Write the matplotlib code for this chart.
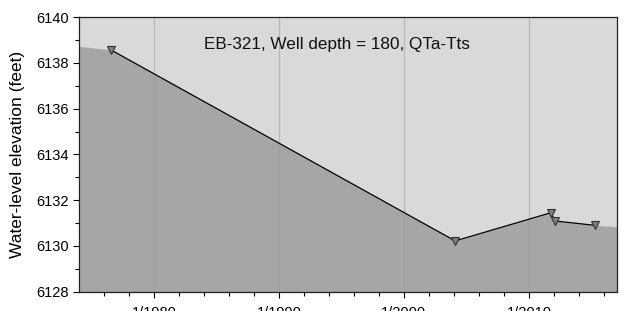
import matplotlib
matplotlib.use("Agg")
import matplotlib.pyplot as plt

# measured water levels (decimal year, feet)
years = [1976.55, 2004.1, 2011.75, 2012.1, 2015.3]
levels = [6138.57, 6130.22, 6131.45, 6131.09, 6130.9]

# shaded area continues out to the plot edges
fill_years = [1974.0] + years + [2017.05]
fill_levels = [6138.72] + levels + [6130.84]

tick_years = [1980, 1990, 2000, 2010]
tick_labels = ["1/1980", "1/1990", "1/2000", "1/2010"]
title = "EB-321, Well depth = 180, QTa-Tts"

plt.rcParams["font.family"] = ["Liberation Sans", "DejaVu Sans"]

fig = plt.figure(figsize=(6.24, 3.11), dpi=100)
ax = fig.add_axes([0.1266, 0.062, 0.8622, 0.883])
ax.set_facecolor("#d9d9d9")

ax.fill_between(fill_years, fill_levels, 6128, color="#a6a6a6", lw=0, zorder=1)
for x in tick_years:
    ax.axvline(x, color="#c0c0c0", lw=0.9, zorder=0.5)
    ax.axvline(x, color="black", alpha=0.04, lw=0.9, zorder=2)

ax.plot(years, levels, color="black", lw=0.9, zorder=3)
ax.plot(years, levels, ls="none", marker="v", ms=6, mfc="#808080",
        mec="#333333", mew=0.8, zorder=4)

ax.set_xlim(1974.0, 2017.05)
ax.set_ylim(6128, 6140)
ax.set_xticks(tick_years)
ax.set_xticklabels(tick_labels, fontsize=10.5)
ax.set_xticks(range(1976, 2017, 2), minor=True)
ax.set_yticks(range(6128, 6141, 2))
ax.set_yticks(range(6128, 6141), minor=True)
ax.tick_params(axis="y", labelsize=10.5, length=4, width=0.8)
ax.tick_params(axis="x", length=4, width=0.8, pad=6)
ax.tick_params(which="minor", length=3, width=0.8)
for s in ax.spines.values():
    s.set_linewidth(0.9)
    s.set_color("#222222")

ax.set_ylabel("Water-level elevation (feet)", fontsize=12.5, labelpad=8)
ax.text(0.48, 0.9, title, transform=ax.transAxes, ha="center", va="center",
        fontsize=12.3, color="#111111")

fig.savefig("out.png", dpi=100)
